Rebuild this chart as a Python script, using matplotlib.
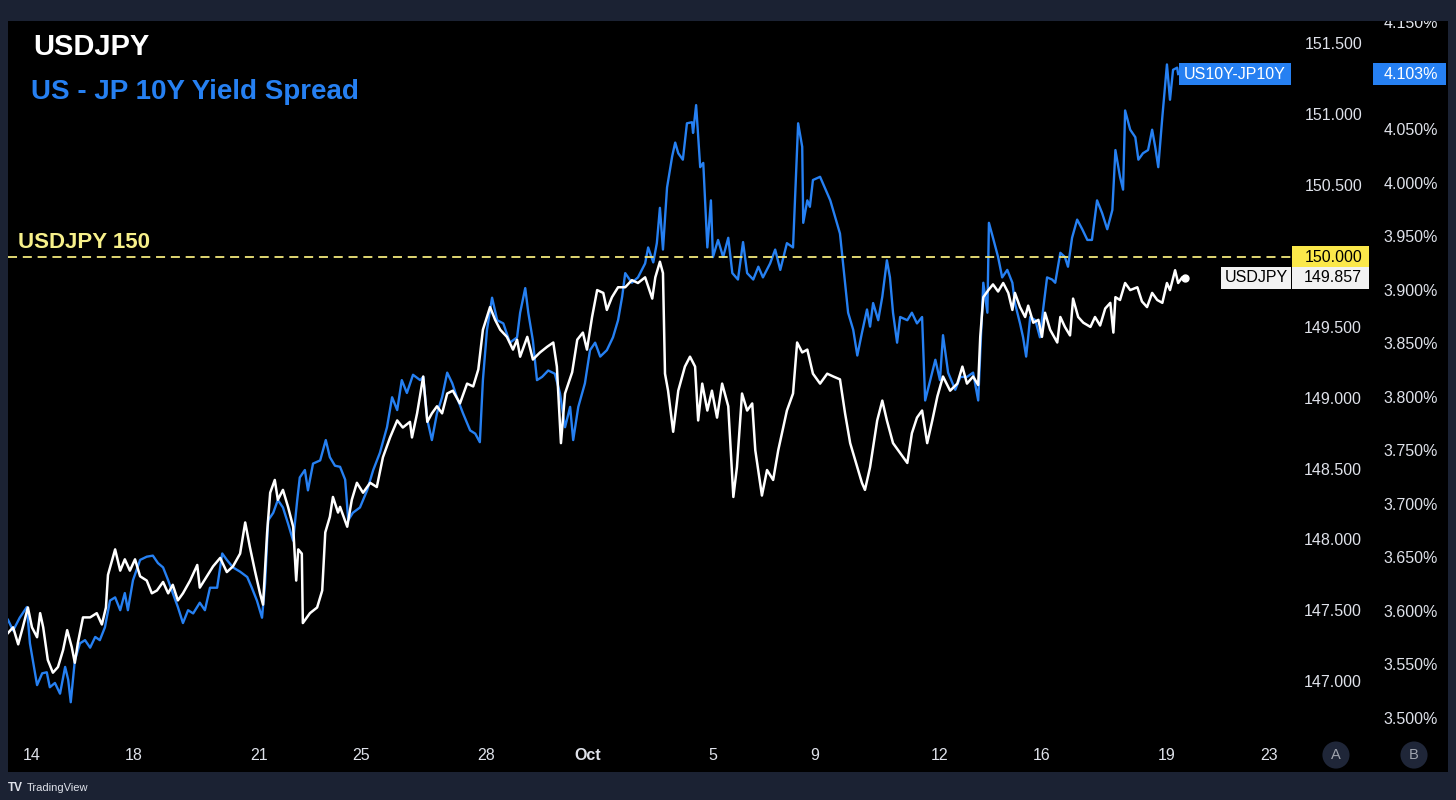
import matplotlib
matplotlib.use("Agg")
import matplotlib.pyplot as plt
from matplotlib.patches import Rectangle
from matplotlib.transforms import blended_transform_factory as blend

plt.rcParams['font.family'] = ['Liberation Sans', 'DejaVu Sans']

# 横轴: 交易日单位 (14 -> 0)
date_pos = [0, 2, 4.45, 6.45, 8.9, 10.9, 13.35, 15.35, 17.8, 19.8, 22.25, 24.25]
date_lbls = ['14', '18', '21', '25', '28', 'Oct', '5', '9', '12', '16', '19', '23']

# USDJPY 价格
usd_x = [-0.47, -0.37, -0.27, -0.18, -0.08, 0.00, 0.10, 0.16, 0.22, 0.31, 0.41, 0.51, 0.61, 0.69,
         0.78, 0.84, 0.90, 1.00, 1.14, 1.27, 1.37, 1.45, 1.49, 1.63, 1.73, 1.82, 1.92, 2.02, 2.12,
         2.25, 2.35, 2.45, 2.57, 2.67, 2.76, 2.86, 2.96, 3.10, 3.24, 3.29, 3.43, 3.55, 3.69, 3.82,
         3.94, 4.08, 4.18, 4.27, 4.37, 4.47, 4.53, 4.61, 4.67, 4.76, 4.82, 4.92, 5.02, 5.12, 5.18,
         5.22, 5.29, 5.31, 5.45, 5.59, 5.69, 5.75, 5.84, 5.90, 6.00, 6.04, 6.18, 6.27, 6.37, 6.49,
         6.63, 6.76, 6.88, 7.02, 7.16, 7.27, 7.41, 7.45, 7.55, 7.67, 7.75, 7.84, 7.94, 8.04, 8.14,
         8.25, 8.39, 8.53, 8.65, 8.75, 8.84, 8.98, 9.08, 9.18, 9.31, 9.43, 9.51, 9.57, 9.71, 9.82,
         9.96, 10.10, 10.22, 10.29, 10.37, 10.45, 10.59, 10.69, 10.80, 10.88, 10.98, 11.08, 11.20,
         11.27, 11.37, 11.49, 11.63, 11.76, 11.88, 12.02, 12.16, 12.22, 12.31, 12.37, 12.41, 12.47,
         12.57, 12.67, 12.80, 12.90, 13.00, 13.06, 13.14, 13.24, 13.33, 13.43, 13.53, 13.65, 13.75,
         13.82, 13.92, 14.02, 14.12, 14.18, 14.31, 14.41, 14.53, 14.63, 14.80, 14.92, 15.00, 15.10,
         15.20, 15.31, 15.45, 15.59, 15.71, 15.84, 15.94, 16.04, 16.18, 16.27, 16.33, 16.43, 16.57,
         16.67, 16.76, 16.88, 17.02, 17.16, 17.25, 17.35, 17.45, 17.55, 17.65, 17.75, 17.86, 18.00,
         18.14, 18.24, 18.33, 18.45, 18.55, 18.59, 18.65, 18.75, 18.84, 18.94, 19.04, 19.14, 19.22,
         19.27, 19.37, 19.47, 19.53, 19.63, 19.73, 19.80, 19.86, 19.96, 20.10, 20.16, 20.25, 20.35,
         20.41, 20.51, 20.61, 20.75, 20.84, 20.94, 21.04, 21.14, 21.20, 21.24, 21.33, 21.43, 21.53,
         21.67, 21.76, 21.86, 21.96, 22.06, 22.16, 22.25, 22.31, 22.41, 22.47, 22.55, 22.61]
usd_y = [147.35, 147.39, 147.27, 147.39, 147.53, 147.39, 147.32, 147.49, 147.39, 147.16, 147.07,
         147.11, 147.23, 147.37, 147.25, 147.14, 147.28, 147.46, 147.46, 147.49, 147.41, 147.53,
         147.76, 147.94, 147.79, 147.87, 147.79, 147.87, 147.75, 147.72, 147.63, 147.65, 147.71,
         147.63, 147.69, 147.58, 147.63, 147.72, 147.83, 147.67, 147.75, 147.82, 147.88, 147.78,
         147.82, 147.91, 148.13, 147.96, 147.79, 147.63, 147.55, 148.06, 148.34, 148.43, 148.29,
         148.36, 148.24, 148.10, 147.72, 147.94, 147.91, 147.42, 147.49, 147.53, 147.65, 148.06,
         148.17, 148.31, 148.20, 148.24, 148.10, 148.29, 148.41, 148.34, 148.41, 148.38, 148.59,
         148.73, 148.85, 148.80, 148.84, 148.73, 148.90, 149.16, 148.84, 148.90, 148.95, 148.90,
         149.04, 149.06, 148.97, 149.11, 149.09, 149.21, 149.49, 149.65, 149.56, 149.49, 149.44,
         149.35, 149.42, 149.30, 149.44, 149.28, 149.33, 149.37, 149.40, 149.23, 148.69, 149.04,
         149.19, 149.42, 149.47, 149.35, 149.58, 149.77, 149.75, 149.63, 149.72, 149.79, 149.79,
         149.84, 149.82, 149.86, 149.71, 149.86, 149.97, 149.89, 149.18, 149.06, 148.77, 149.06,
         149.23, 149.30, 149.23, 148.85, 149.11, 148.92, 149.06, 148.87, 149.11, 148.95, 148.31,
         148.52, 149.04, 148.92, 148.97, 148.64, 148.32, 148.50, 148.43, 148.64, 148.92, 149.04,
         149.40, 149.33, 149.35, 149.18, 149.11, 149.18, 149.16, 149.14, 148.90, 148.69, 148.52,
         148.41, 148.36, 148.52, 148.85, 148.99, 148.85, 148.69, 148.62, 148.55, 148.76, 148.87,
         148.92, 148.69, 148.85, 149.02, 149.16, 149.06, 149.11, 149.23, 149.11, 149.16, 149.10,
         149.44, 149.72, 149.77, 149.81, 149.76, 149.82, 149.75, 149.63, 149.75, 149.65, 149.58,
         149.66, 149.54, 149.56, 149.44, 149.61, 149.49, 149.40, 149.58, 149.51, 149.45, 149.71,
         149.58, 149.54, 149.51, 149.58, 149.52, 149.64, 149.68, 149.47, 149.72, 149.70, 149.82,
         149.77, 149.79, 149.69, 149.65, 149.75, 149.70, 149.68, 149.82, 149.77, 149.91, 149.82,
         149.86, 149.857]

# 美日10年期利差 (%)
spr_x = [-0.47, -0.37, -0.24, -0.10, -0.04, 0.06, 0.10, 0.20, 0.29, 0.35, 0.45, 0.55, 0.65, 0.71,
         0.76, 0.84, 0.94, 1.04, 1.14, 1.24, 1.33, 1.43, 1.53, 1.63, 1.73, 1.82, 1.88, 1.98, 2.12,
         2.25, 2.37, 2.47, 2.57, 2.67, 2.76, 2.86, 2.96, 3.06, 3.16, 3.29, 3.39, 3.49, 3.63, 3.73,
         3.82, 3.94, 4.08, 4.22, 4.31, 4.41, 4.51, 4.57, 4.63, 4.73, 4.82, 4.92, 5.02, 5.12, 5.20,
         5.25, 5.35, 5.41, 5.51, 5.65, 5.76, 5.84, 5.94, 6.04, 6.14, 6.20, 6.29, 6.43, 6.57, 6.69,
         6.82, 6.96, 7.06, 7.16, 7.25, 7.35, 7.47, 7.61, 7.67, 7.75, 7.84, 7.94, 8.04, 8.14, 8.24,
         8.33, 8.45, 8.59, 8.69, 8.78, 8.84, 8.92, 9.02, 9.12, 9.24, 9.37, 9.51, 9.57, 9.67, 9.73,
         9.82, 9.90, 10.00, 10.12, 10.25, 10.35, 10.45, 10.55, 10.61, 10.71, 10.84, 10.94, 11.04,
         11.14, 11.27, 11.39, 11.49, 11.57, 11.63, 11.76, 11.88, 12.02, 12.08, 12.18, 12.25, 12.31,
         12.37, 12.45, 12.55, 12.61, 12.67, 12.76, 12.84, 12.94, 12.96, 13.02, 13.10, 13.16, 13.24,
         13.31, 13.35, 13.45, 13.55, 13.65, 13.73, 13.84, 13.94, 14.02, 14.14, 14.24, 14.33, 14.47,
         14.57, 14.67, 14.80, 14.92, 15.02, 15.10, 15.12, 15.20, 15.25, 15.31, 15.45, 15.65, 15.84,
         15.90, 16.00, 16.10, 16.18, 16.27, 16.37, 16.43, 16.49, 16.59, 16.67, 16.76, 16.82, 16.88,
         16.96, 17.02, 17.16, 17.25, 17.35, 17.45, 17.51, 17.61, 17.71, 17.80, 17.86, 17.96, 18.10,
         18.20, 18.33, 18.45, 18.55, 18.65, 18.73, 18.76, 18.84, 18.94, 19.02, 19.12, 19.22, 19.27,
         19.37, 19.43, 19.49, 19.57, 19.67, 19.76, 19.82, 19.90, 20.00, 20.06, 20.16, 20.25, 20.31,
         20.39, 20.49, 20.59, 20.69, 20.78, 20.88, 20.98, 21.08, 21.18, 21.24, 21.33, 21.39, 21.43,
         21.53, 21.63, 21.69, 21.78, 21.88, 21.96, 22.02, 22.08, 22.16, 22.22, 22.25, 22.31, 22.37,
         22.45, 22.47]
spr_y = [3.593, 3.583, 3.595, 3.605, 3.571, 3.543, 3.532, 3.543, 3.544, 3.530, 3.534, 3.524, 3.549,
         3.537, 3.516, 3.555, 3.571, 3.574, 3.567, 3.577, 3.574, 3.586, 3.611, 3.614, 3.602, 3.618,
         3.602, 3.630, 3.649, 3.652, 3.653, 3.646, 3.642, 3.630, 3.618, 3.605, 3.590, 3.602, 3.599,
         3.609, 3.602, 3.623, 3.623, 3.655, 3.649, 3.642, 3.638, 3.633, 3.623, 3.611, 3.595, 3.627,
         3.686, 3.693, 3.705, 3.698, 3.683, 3.667, 3.705, 3.726, 3.733, 3.714, 3.739, 3.742, 3.761,
         3.745, 3.737, 3.736, 3.724, 3.686, 3.693, 3.698, 3.714, 3.733, 3.749, 3.773, 3.801, 3.789,
         3.817, 3.805, 3.822, 3.817, 3.820, 3.780, 3.761, 3.786, 3.801, 3.824, 3.814, 3.801, 3.786,
         3.770, 3.767, 3.759, 3.817, 3.864, 3.894, 3.873, 3.870, 3.852, 3.857, 3.880, 3.903, 3.880,
         3.854, 3.817, 3.820, 3.826, 3.823, 3.805, 3.773, 3.792, 3.761, 3.792, 3.814, 3.845, 3.852,
         3.839, 3.845, 3.857, 3.873, 3.895, 3.917, 3.908, 3.913, 3.926, 3.941, 3.927, 3.945, 3.978,
         3.939, 3.997, 4.026, 4.039, 4.029, 4.023, 4.057, 4.058, 4.048, 4.074, 4.016, 4.020, 3.941,
         3.985, 3.932, 3.948, 3.932, 3.950, 3.917, 3.911, 3.946, 3.917, 3.911, 3.923, 3.913, 3.926,
         3.939, 3.920, 3.945, 3.941, 4.057, 4.035, 3.964, 3.985, 3.979, 4.004, 4.007, 3.985, 3.954,
         3.926, 3.880, 3.864, 3.840, 3.861, 3.883, 3.867, 3.889, 3.873, 3.895, 3.929, 3.913, 3.880,
         3.852, 3.876, 3.873, 3.880, 3.870, 3.876, 3.798, 3.817, 3.836, 3.817, 3.859, 3.824, 3.808,
         3.820, 3.820, 3.824, 3.798, 3.908, 3.880, 3.964, 3.950, 3.932, 3.913, 3.920, 3.908, 3.889,
         3.870, 3.857, 3.839, 3.876, 3.873, 3.857, 3.882, 3.913, 3.911, 3.908, 3.936, 3.932, 3.923,
         3.950, 3.967, 3.958, 3.948, 3.948, 3.985, 3.973, 3.958, 3.976, 4.032, 4.007, 3.995, 4.069,
         4.051, 4.044, 4.023, 4.029, 4.032, 4.051, 4.035, 4.016, 4.063, 4.095, 4.112, 4.079, 4.107,
         4.109, 4.103]

price_ticks = [151.5, 151.0, 150.5, 149.5, 149.0, 148.5, 148.0, 147.5, 147.0]
spread_ticks = [4.15, 4.05, 4.00, 3.95, 3.90, 3.85, 3.80, 3.75, 3.70, 3.65, 3.60, 3.55, 3.50]
level = 150.0

NAVY = '#1b2233'
BLUE = '#2680f2'
TXT = '#dfe2ea'

fig = plt.figure(figsize=(14.56, 8), dpi=100, facecolor=NAVY)
# 利差为底层坐标轴, 价格用 twinx 叠在上面
ax = fig.add_axes([8 / 1456, 28 / 800, 1440 / 1456, 751 / 800])
ax.set_facecolor('black')
ax.set_xlim(-0.47, 27.76)
ax.set_ylim(3.4508, 4.1526)
ax2 = ax.twinx()
ax2.set_ylim(146.369, 151.669)
for a in (ax, ax2):
    for s in a.spines.values():
        s.set_visible(False)
    a.set_xticks([])
    a.set_yticks([])

ax.plot(spr_x, spr_y, color=BLUE, lw=1.7, solid_joinstyle='round')
ax2.plot(usd_x, usd_y, color='white', lw=1.8, solid_joinstyle='round')
ax2.plot(usd_x[-1:], usd_y[-1:], 'o', color='white', ms=5)

# 150 水平虚线
ax2.axhline(level, xmin=0, xmax=0.8917, color='#f2e87c', lw=1.3, dashes=(5, 3.2))

# 日期标签
tr_date = blend(ax.transData, ax.transAxes)
for p, lbl in zip(date_pos, date_lbls):
    ax.text(p, 0.0226, lbl, transform=tr_date, ha='center', va='center', fontsize=11.5,
            color=TXT, fontweight='bold' if lbl == 'Oct' else 'normal')

# 右侧刻度
tr_p = blend(ax.transAxes, ax2.transData)
tr_s = blend(ax.transAxes, ax.transData)
for v in price_ticks:
    ax2.text(0.9403, v, f'{v:.3f}', transform=tr_p, ha='right', va='center', fontsize=11.5, color=TXT)
for v in spread_ticks:
    ax.text(0.9931, v, f'{v:.3f}%', transform=tr_s, ha='right', va='center', fontsize=11.5,
            color=TXT, clip_on=True)


def tag(tr, x0, x1, val, half, fc, txt, tc, tx, ha):
    ax2.add_patch(Rectangle((x0, val - half), x1 - x0, 2 * half, transform=tr, facecolor=fc,
                            edgecolor='none', zorder=5, clip_on=False))
    ax2.text(tx, val, txt, transform=tr, ha=ha, va='center', fontsize=11.5, color=tc, zorder=6)


tag(tr_p, 0.8917, 0.9451, level, 0.081, '#fbe84a', f'{level:.3f}', 'black', 0.9403, 'right')
tag(tr_p, 0.8424, 0.8910, usd_y[-1], 0.079, '#f2f2f2', 'USDJPY', 'black', 0.8667, 'center')
tag(tr_p, 0.8917, 0.9451, usd_y[-1], 0.079, '#f2f2f2', f'{usd_y[-1]:.3f}', 'black', 0.9403, 'right')
tag(tr_s, 0.8132, 0.8910, spr_y[-1], 0.0101, BLUE, 'US10Y-JP10Y', 'white', 0.8521, 'center')
tag(tr_s, 0.9479, 0.9986, spr_y[-1], 0.0101, BLUE, f'{spr_y[-1]:.3f}%', 'white', 0.9931, 'right')

# 标题
fig.text(33 / 1456, 1 - 55 / 800, 'USDJPY', fontsize=21, fontweight='bold', color='white',
         va='baseline')
fig.text(31 / 1456, 1 - 99 / 800, 'US - JP 10Y Yield Spread', fontsize=20, fontweight='bold',
         color=BLUE, va='baseline')
fig.text(18 / 1456, 1 - 248 / 800, 'USDJPY 150', fontsize=16, fontweight='bold',
         color='#f7f08a', va='baseline')

# A / B 按钮
for xf, ch in [(0.9222, 'A'), (0.9764, 'B')]:
    ax.text(xf, 0.0226, ch, transform=ax.transAxes, ha='center', va='center', fontsize=10.5,
            color='#a0a4ae', bbox=dict(boxstyle='circle,pad=0.45', fc='#1f2638', ec='none'))

# 水印
fig.text(8 / 1456, 1 - 791 / 800, 'TV', fontsize=8.5, fontweight='heavy', color=TXT, va='baseline')
fig.text(27 / 1456, 1 - 791 / 800, 'TradingView', fontsize=8, color=TXT, va='baseline')

fig.savefig('out.png', dpi=100, facecolor=NAVY)
